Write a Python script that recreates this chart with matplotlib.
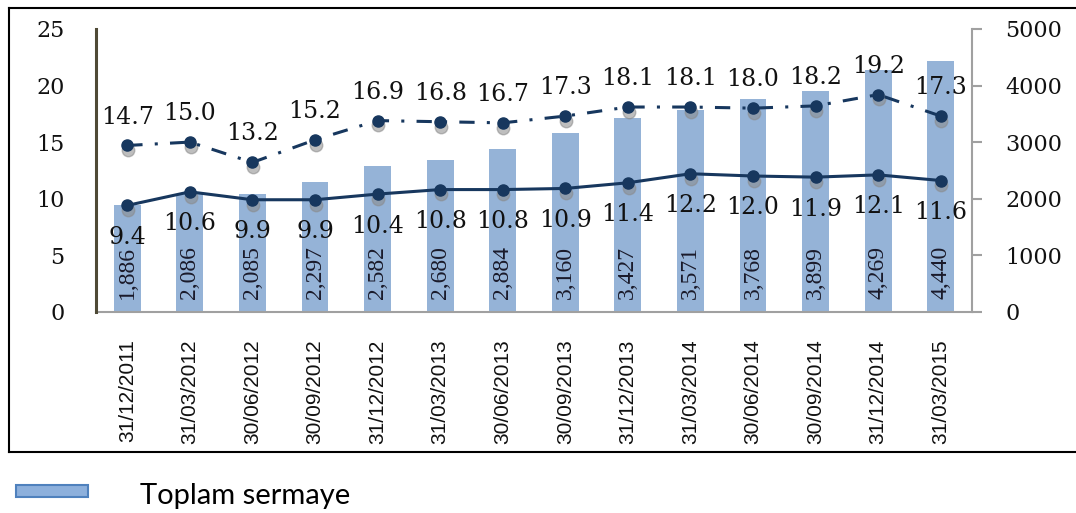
import matplotlib
matplotlib.use("Agg")
import matplotlib.pyplot as plt
from matplotlib import font_manager as fm
from matplotlib import transforms as mtransforms
from matplotlib.lines import Line2D
from matplotlib.patches import Rectangle

# ---- data ----
dates = ["31/12/2011", "31/03/2012", "30/06/2012", "30/09/2012", "31/12/2012",
         "31/03/2013", "30/06/2013", "30/09/2013", "31/12/2013", "31/03/2014",
         "30/06/2014", "30/09/2014", "31/12/2014", "31/03/2015"]
capital = [1886, 2086, 2085, 2297, 2582, 2680, 2884, 3160, 3427, 3571, 3768, 3899, 4269, 4440]
ratio_low = [9.4, 10.6, 9.9, 9.9, 10.4, 10.8, 10.8, 10.9, 11.4, 12.2, 12.0, 11.9, 12.1, 11.6]
ratio_high = [14.7, 15.0, 13.2, 15.2, 16.9, 16.8, 16.7, 17.3, 18.1, 18.1, 18.0, 18.2, 19.2, 17.3]
left_ticks = [0, 5, 10, 15, 20, 25]
right_ticks = [0, 1000, 2000, 3000, 4000, 5000]
legend_label = "Toplam sermaye"

# ---- styles ----
BAR = "#95b3d7"
LINE = "#17375e"
GRAY = "#a0a0a0"
SERIF = "DejaVu Serif"

try:
    fm.findfont(fm.FontProperties(family="Liberation Sans Narrow"), fallback_to_default=False)
    XFAM, XSIZE = "Liberation Sans Narrow", 18
except Exception:
    XFAM, XSIZE = "Liberation Sans", 15

fig = plt.figure(figsize=(10.76, 5.13), dpi=100)
W, H = 1076, 513
L, R, B, T = 96, 972, 311.7, 29
axb = fig.add_axes([L / W, 1 - B / H, (R - L) / W, (B - T) / H])
x = list(range(len(dates)))

# bars (right axis)
axb.bar(x, capital, width=0.43, color=BAR, zorder=2)
axb.set_ylim(0, 5000)
axb.set_xlim(-0.5, len(dates) - 0.5)
axb.set_xticks(x)
axb.set_xticklabels(dates, rotation=90, fontfamily=XFAM, fontsize=XSIZE, color="#111111")
axb.tick_params(axis="x", length=0, pad=20)
for s in ["left", "top"]:
    axb.spines[s].set_visible(False)
for s in ["right", "bottom"]:
    axb.spines[s].set_color(GRAY)
    axb.spines[s].set_linewidth(1.5)

for xi, v in zip(x, capital):
    axb.annotate(f"{v:,}", xy=(xi, 0), xytext=(0, 9.5), textcoords="offset points",
                 rotation=90, ha="center", va="bottom", fontfamily="Liberation Serif",
                 fontsize=17, color="#1a1a2a", zorder=3)

# lines (left axis)
axl = axb.twinx()
axl.set_ylim(0, 25)
axl.yaxis.tick_left()
axl.yaxis.set_label_position("left")
axl.set_yticks(left_ticks)
axl.set_yticklabels([str(v) for v in left_ticks], fontfamily=SERIF, fontsize=16, color="#111111")
axl.tick_params(axis="y", which="both", left=True, right=False, labelleft=True, labelright=False,
                length=0, pad=22.5)
for s in ["right", "top", "bottom"]:
    axl.spines[s].set_visible(False)
axl.spines["left"].set_visible(True)
axl.spines["left"].set_color("#4f4a36")
axl.spines["left"].set_linewidth(2.2)

# right axis ticks for the bars (set after twinx)
axb.yaxis.tick_right()
axb.set_yticks(right_ticks)
axb.set_yticklabels([str(v) for v in right_ticks], fontfamily=SERIF, fontsize=16, color="#111111")
axb.tick_params(axis="y", which="both", left=False, labelleft=False, right=True, labelright=True,
                direction="out", length=7.2, width=1.5, color=GRAY, pad=17)

# marker shadows (same data, shifted slightly down)
shadow_tr = mtransforms.offset_copy(axl.transData, fig=fig, x=0.5, y=-3.5, units="points")
for series in (ratio_low, ratio_high):
    axl.plot(x, series, ls="none", marker="o", ms=9, color="#8a8a8a", alpha=0.55,
             transform=shadow_tr, zorder=3.5)

axl.plot(x, ratio_low, color=LINE, lw=2.2, zorder=4)
axl.plot(x, ratio_high, color=LINE, lw=2.2, ls=(0, (5, 4, 1, 4)), zorder=4)
axl.plot(x, ratio_low, ls="none", marker="o", ms=8, color=LINE, zorder=5)
axl.plot(x, ratio_high, ls="none", marker="o", ms=8, color=LINE, zorder=5)

for xi, v in zip(x, ratio_high):
    axl.annotate(f"{v:.1f}", xy=(xi, v), xytext=(0, 20.5), textcoords="offset points",
                 ha="center", va="center", fontfamily=SERIF, fontsize=17, color="#111111", zorder=6)
for xi, v in zip(x, ratio_low):
    axl.annotate(f"{v:.1f}", xy=(xi, v), xytext=(0, -23), textcoords="offset points",
                 ha="center", va="center", fontfamily=SERIF, fontsize=17, color="#111111", zorder=6)

# outer frame (left, top, bottom edges)
fx0, fy_top, fy_bot = 9 / W, 1 - 7.5 / H, 1 - 452 / H
for xs, ys in [([fx0, fx0], [fy_bot, fy_top]), ([fx0, 1.0], [fy_top, fy_top]), ([fx0, 1.0], [fy_bot, fy_bot])]:
    fig.add_artist(Line2D(xs, ys, transform=fig.transFigure, color="black", lw=1.5))

# legend
fig.add_artist(Rectangle((16 / W, 1 - 497 / H), 72 / W, 12 / H, transform=fig.transFigure,
                         facecolor="#8db0dc", edgecolor="#4f81bd", lw=1.5))
fig.text(140 / W, 1 - 504 / H, legend_label, fontfamily="Lato", fontsize=21,
         color="black", ha="left", va="baseline")

fig.savefig("out.png", dpi=100)
